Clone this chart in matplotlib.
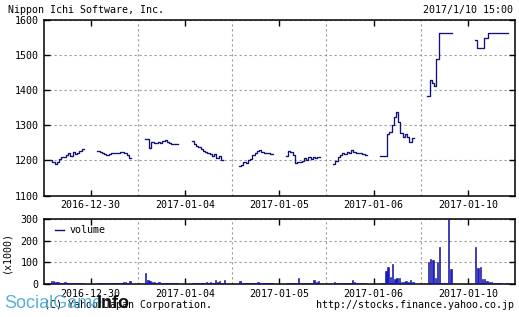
import numpy as np
import matplotlib
matplotlib.use("Agg")
import matplotlib.pyplot as plt
from matplotlib.lines import Line2D

plt.rcParams["font.family"] = ["DejaVu Sans Mono"]
plt.rcParams["font.size"] = 7.2

nan = np.nan

# ---- data -------------------------------------------------------------
days = ["2016-12-30", "2017-01-04", "2017-01-05", "2017-01-06", "2017-01-10"]

# prices sampled every 10 minutes, morning session from 9:00, afternoon from 12:30
price_am = [
    [1201, 1195, 1189, 1195, 1205, 1209, 1211, 1214, 1220, 1212, 1225, 1218, 1222, 1226, 1232],
    [1262, 1260, 1234, 1253, 1250, 1249, 1252, 1250, 1255, 1258, 1253, 1250, 1247, 1247, 1247],
    [1183, 1188, 1195, 1192, 1200, 1205, 1216, 1221, 1226, 1230, 1224, 1222, 1221, 1220, 1219],
    [1191, 1198, 1210, 1215, 1220, 1219, 1224, 1220, 1230, 1224, 1220, 1222, 1221, 1219, 1215],
    [1383, 1430, 1420, 1412, 1490, 1562, 1562, 1562, 1562, 1562, 1562, nan, nan, nan, nan],
]
price_pm = [
    [1228, 1223, 1220, 1218, 1216, 1218, 1220, 1221, 1220, 1222, 1225, 1223, 1220, 1214, 1207],
    [1254, 1246, 1240, 1237, 1233, 1228, 1224, 1220, 1218, 1212, 1218, 1208, 1212, 1202, nan],
    [1212, 1226, 1224, 1214, 1192, 1195, 1196, 1198, 1208, 1200, 1210, 1204, 1211, 1207, 1209],
    [1212, 1212, 1212, 1275, 1282, 1301, 1325, 1337, 1310, 1278, 1268, 1275, 1268, 1253, 1263],
    [1543, 1519, 1519, 1519, 1548, 1548, 1562, 1562, 1562, 1562, 1562, 1562, 1562, 1562, 1562],
]
# volume (x1000) per 10 minutes
vol_am = [
    [14, 12, 8, 10, 6, 5, 7, 4, 3, 5, 4, 3, 4, 6, 5],
    [49, 18, 14, 10, 8, 6, 8, 5, 6, 5, 4, 5, 3, 4, 4],
    [14, 6, 5, 4, 6, 3, 5, 4, 8, 5, 4, 6, 5, 4, 5],
    [8, 5, 4, 6, 4, 5, 3, 4, 18, 8, 4, 3, 5, 4, 4],
    [100, 115, 111, 30, 103, 172, 5, 3, 3, 330, 69, 0, 0, 0, 0],
]
vol_pm = [
    [5, 4, 3, 4, 3, 5, 4, 3, 4, 6, 5, 8, 10, 6, 15],
    [4, 3, 5, 4, 6, 5, 8, 4, 10, 6, 18, 8, 15, 6, 20],
    [4, 5, 3, 4, 6, 26, 4, 3, 5, 4, 6, 4, 17, 8, 15],
    [3, 5, 60, 80, 34, 91, 25, 28, 30, 8, 10, 12, 8, 18, 10],
    [172, 72, 80, 25, 25, 15, 8, 8, 5, 4, 3, 3, 2, 2, 3],
]
price_ticks = [1100, 1200, 1300, 1400, 1500, 1600]
vol_ticks = [0, 100, 200, 300]

# ---- layout -----------------------------------------------------------
W, H = 519, 317
fig = plt.figure(figsize=(W / 100, H / 100), dpi=100)
fig.patch.set_facecolor("white")
L, R = 43.5, 515.0
ax1 = fig.add_axes([L / W, 1 - 195.5 / H, (R - L) / W, (195.5 - 20) / H])
ax2 = fig.add_axes([L / W, 1 - 284 / H, (R - L) / W, (284 - 219.3) / H])

DAY = 7.0            # hours shown per day (8:30 - 15:30)
BIN = 1.0 / 6.0      # 10 minutes
LINE_C = "#12127a"

for i in range(len(days)):
    for start, p, v in ((0.5, price_am[i], vol_am[i]), (4.0, price_pm[i], vol_pm[i])):
        p = np.array(p, dtype=float)
        x = i * DAY + start + np.arange(len(p) + 1) * BIN
        y = np.append(p, p[-1])
        ax1.plot(x, y, drawstyle="steps-post", color=LINE_C, lw=0.95, zorder=3)
        xb = i * DAY + start + (np.arange(len(v)) + 0.5) * BIN
        ax2.bar(xb, v, width=BIN * 0.6, color="#1818e8", edgecolor="#0a0a80",
                lw=0.4, zorder=3)

grid_kw = dict(color="#9a9a9a", lw=0.8, linestyle=(0, (2, 2.5)))
for ax, lim, ticks in ((ax1, (1100, 1600), price_ticks), (ax2, (0, 300), vol_ticks)):
    ax.set_xlim(0, DAY * len(days))
    ax.set_ylim(*lim)
    ax.set_yticks(ticks)
    ax.set_xticks([i * DAY + DAY / 2 for i in range(len(days))])
    ax.set_xticklabels(days)
    ax.set_xticks([i * DAY for i in range(1, len(days))], minor=True)
    ax.tick_params(which="major", direction="in", length=4, width=1,
                   top=True, right=True, pad=3.5, labelsize=7.2, colors="black")
    ax.tick_params(which="minor", length=0)
    ax.grid(True, which="minor", axis="x", **grid_kw)
    ax.grid(True, which="major", axis="y", **grid_kw)
    ax.set_axisbelow(True)
    for s in ax.spines.values():
        s.set_linewidth(1.1)

ax2.legend(handles=[Line2D([], [], color=LINE_C, lw=1.0)], labels=["volume"],
           loc="upper left", frameon=False, handlelength=0.9, handletextpad=0.5,
           borderaxespad=0.3, fontsize=7.2, bbox_to_anchor=(0.01, 1.02))
ax2.set_ylabel("(x1000)", fontsize=7.2, labelpad=2)
ax2.yaxis.set_label_coords(-0.068, 0.5)

# ---- texts -------------------------------------------------------------
def px(x, y):
    return x / W, 1 - y / H

fig.text(*px(8, 10), "Nippon Ichi Software, Inc.", ha="left", va="center", fontsize=7.2)
fig.text(*px(513, 10), "2017/1/10 15:00", ha="right", va="center", fontsize=7.2)
fig.text(*px(44, 305), "(C) Yahoo Japan Corporation.", ha="left", va="center", fontsize=7.2)
fig.text(*px(514, 305), "http://stocks.finance.yahoo.co.jp", ha="right", va="center", fontsize=7.2)
# watermark
fig.text(*px(4, 304), "SocialGame", ha="left", va="center", fontsize=13,
         family="Liberation Sans", color="#4aa6d4", alpha=0.9)
fig.text(*px(97, 304), "Info", ha="left", va="center", fontsize=13,
         family="Liberation Sans", weight="bold", color="#111111")

fig.savefig("out.png", dpi=100, facecolor="white")
